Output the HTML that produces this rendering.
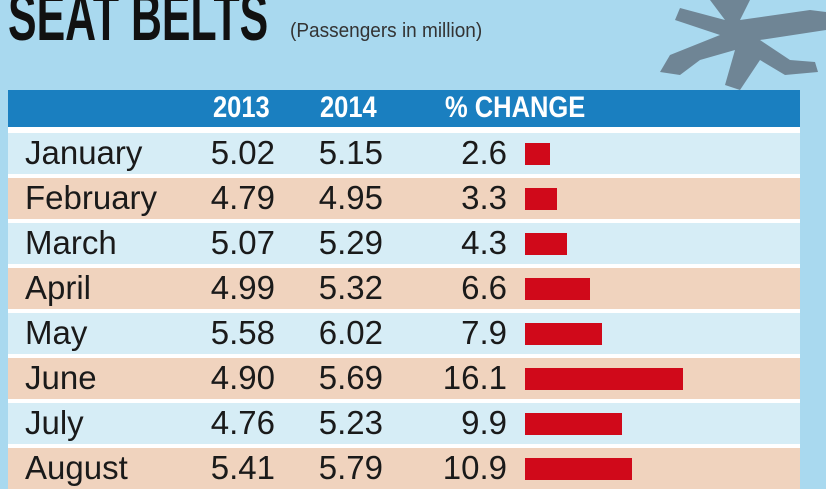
<!DOCTYPE html>
<html><head><meta charset="utf-8"><style>
body{margin:0;width:826px;height:465px;overflow:hidden;background:#a9d9ef;font-family:"Liberation Sans",sans-serif;position:relative}
.t{position:absolute;white-space:nowrap;transform-origin:0 0}
.row{position:absolute;left:8px;width:792px;height:41px}
.c{position:absolute;font-size:33px;color:#1a1a1a;top:1px;transform:scaleX(1.0);}
.r{transform-origin:100% 0}
.l{transform-origin:0 0}
.bar{position:absolute;height:22px;top:10px;left:517px;background:#d0091a}
</style></head><body>
<svg style="position:absolute;left:640px;top:0" width="186" height="95">
<polygon fill="#6f8595" points="70,0 110,0 100,20 170,10 186,12 186,30 120,40 150,60 175,62 178,72 145,75 120,60 100,90 85,85 95,50 60,60 40,75 20,72 30,55 80,35 35,20 40,8 85,20"/>
</svg>
<div class="t" style="left:8px;top:-22px;font-size:68px;font-weight:bold;color:#111;transform:scaleX(0.63)">SEAT BELTS</div>
<div class="t" style="left:290px;top:20px;font-size:20px;color:#333;transform:scaleX(0.95)">(Passengers in million)</div>
<div style="position:absolute;left:8px;top:90px;width:792px;height:37px;background:#1a7fc0"></div>
<div style="position:absolute;left:8px;top:127px;width:792px;height:340px;background:#fff"></div>
<div class="t" style="left:213px;top:91px;font-size:30px;font-weight:bold;color:#fff;transform:scaleX(0.85)">2013</div>
<div class="t" style="left:320px;top:91px;font-size:30px;font-weight:bold;color:#fff;transform:scaleX(0.85)">2014</div>
<div class="t" style="left:445px;top:91px;font-size:30px;font-weight:bold;color:#fff;transform:scaleX(0.85)">% CHANGE</div>
<div id="rows"></div>
<script>
var d=[["January","5.02","5.15","2.6"],["February","4.79","4.95","3.3"],["March","5.07","5.29","4.3"],["April","4.99","5.32","6.6"],["May","5.58","6.02","7.9"],["June","4.90","5.69","16.1"],["July","4.76","5.23","9.9"],["August","5.41","5.79","10.9"]];
var h="";d.forEach(function(r,i){var y=133+i*45;var bg=i%2?"#f0d3be":"#d6edf6";
h+='<div class="row" style="top:'+y+'px;background:'+bg+'">'+
'<div class="c l" style="left:17px">'+r[0]+'</div>'+
'<div class="c r" style="right:525px">'+r[1]+'</div>'+
'<div class="c r" style="right:417px">'+r[2]+'</div>'+
'<div class="c r" style="right:293px">'+r[3]+'</div>'+
'<div class="bar" style="width:'+Math.round(parseFloat(r[3])*9.8)+'px"></div></div>';});
document.getElementById("rows").innerHTML=h;
</script>
</body></html>
